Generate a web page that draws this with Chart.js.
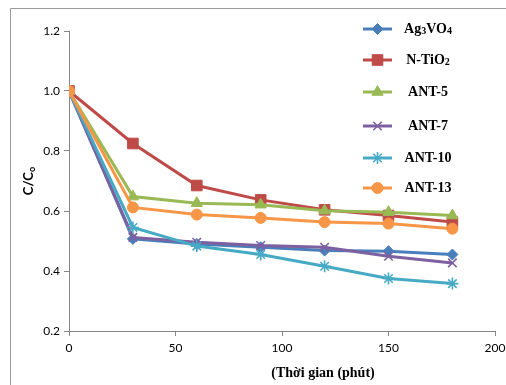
<!DOCTYPE html>
<html>
<head>
<meta charset="utf-8">
<script src="https://cdn.jsdelivr.net/npm/chart.js@4.4.1/dist/chart.umd.min.js"></script>
<style>
  html, body { margin: 0; padding: 0; background: #fff; }
  #wrap { width: 506px; height: 385px; position: relative; }
</style>
</head>
<body>
<div id="wrap"><canvas id="myChart" width="506" height="385"></canvas></div>
<script>
// thoi gian (phut)
var thoiGian = [0, 30, 60, 90, 120, 150, 180];

// C/Co cho tung mau
var ag3vo4 = [1.0, 0.507, 0.490, 0.479, 0.468, 0.466, 0.455];
var ntio2  = [1.0, 0.825, 0.685, 0.637, 0.604, 0.585, 0.563];
var ant5   = [1.0, 0.648, 0.626, 0.621, 0.601, 0.596, 0.585];
var ant7   = [1.0, 0.512, 0.496, 0.485, 0.479, 0.449, 0.427];
var ant10  = [1.0, 0.545, 0.483, 0.455, 0.416, 0.375, 0.358];
var ant13  = [1.0, 0.612, 0.588, 0.577, 0.563, 0.558, 0.541];

// ten mau, "_" = chi so duoi
var tenMau = ['Ag_3VO_4', 'N-TiO_2', 'ANT-5', 'ANT-7', 'ANT-10', 'ANT-13'];
var xTicks = [0, 50, 100, 150, 200];
var yTicks = [0.2, 0.4, 0.6, 0.8, 1.0, 1.2];

var mau = ['#4A7EBB', '#BE4B48', '#98B954', '#7D60A0', '#46AAC5', '#F79646'];
var kieuDiem = ['rectRot', 'rect', 'triangle', 'crossRot', 'star', 'circle'];
var banKinh = [5.5, 7.5, 6.5, 6, 6, 5.5];
var vienDiem = [1, 1, 1, 1.6, 1.6, 1];

var seriesList = [ag3vo4, ntio2, ant5, ant7, ant10, ant13];

var datasets = seriesList.map(function (s, i) {
    return {
        label: tenMau[i].replace(/_/g, ''),
        data: s.map(function (v, k) { return { x: thoiGian[k], y: v }; }),
        borderColor: mau[i],
        backgroundColor: mau[i],
        pointBackgroundColor: mau[i],
        pointBorderColor: mau[i],
        borderWidth: 3,
        pointStyle: kieuDiem[i],
        pointRadius: banKinh[i],
        pointBorderWidth: vienDiem[i],
        tension: 0,
        order: 5 - i
    };
});

// ve chu co chi so duoi
function veChu(ctx, text, cx, cy, size, weight, family) {
    var parts = [];
    text.split(/(_\d)/).forEach(function (p) {
        if (!p) return;
        if (p[0] === '_') parts.push([p.slice(1), true]);
        else parts.push([p, false]);
    });
    var fontOf = function (sub) {
        return weight + ' ' + (sub ? Math.round(size * 0.68) : size) + 'px ' + family;
    };
    var w = 0;
    parts.forEach(function (p) {
        ctx.font = fontOf(p[1]);
        p.push(ctx.measureText(p[0]).width);
        w += p[2];
    });
    var x = cx - w / 2;
    ctx.textBaseline = 'middle';
    ctx.textAlign = 'left';
    parts.forEach(function (p) {
        ctx.font = fontOf(p[1]);
        ctx.fillText(p[0], x, p[1] ? cy + size * 0.2 : cy);
        x += p[2];
    });
}

var khung = {
    id: 'khung',
    beforeDraw: function (chart) {
        var ctx = chart.ctx;
        ctx.save();
        ctx.fillStyle = '#fff';
        ctx.fillRect(0, 0, chart.width, chart.height);
        ctx.strokeStyle = '#9a9a9a';
        ctx.lineWidth = 1;
        ctx.beginPath();
        ctx.moveTo(10.5, 385);
        ctx.lineTo(10.5, 8.5);
        ctx.lineTo(506, 8.5);
        ctx.stroke();
        ctx.restore();
    },
    afterDraw: function (chart) {
        var ctx = chart.ctx;
        ctx.save();
        // chu thich
        var legY = [29, 60, 92, 126, 158, 188];
        tenMau.forEach(function (t, i) {
            var y = legY[i];
            ctx.strokeStyle = mau[i];
            ctx.lineWidth = 3;
            ctx.beginPath();
            ctx.moveTo(363, y);
            ctx.lineTo(392, y);
            ctx.stroke();
            ctx.fillStyle = mau[i];
            ctx.lineWidth = vienDiem[i];
            Chart.helpers.drawPoint(ctx, {
                pointStyle: kieuDiem[i], radius: banKinh[i], rotation: 0, borderWidth: vienDiem[i]
            }, 377.5, y);
            ctx.fillStyle = '#000';
            veChu(ctx, t, 428, y, 14, 'bold', '"Liberation Serif", serif');
        });
        // ten truc y
        ctx.translate(29, 181);
        ctx.rotate(-Math.PI / 2);
        ctx.fillStyle = '#000';
        var f = 'bold 13px Lato, sans-serif';
        ctx.font = f;
        var w1 = ctx.measureText('C/C').width;
        ctx.font = 'bold 9px Lato, sans-serif';
        var w2 = ctx.measureText('o').width;
        var x0 = -(w1 + w2) / 2;
        ctx.font = f;
        ctx.textBaseline = 'middle';
        ctx.textAlign = 'left';
        ctx.fillText('C/C', x0, 0);
        ctx.font = 'bold 9px Lato, sans-serif';
        ctx.fillText('o', x0 + w1, 3);
        ctx.setTransform(1, 0, 0, 1, 0, 0);
        // ten truc x
        ctx.font = 'bold 14px "Liberation Serif", serif';
        ctx.textAlign = 'center';
        ctx.textBaseline = 'middle';
        ctx.fillText('(Thời gian (phút)', 323, 373);
        ctx.restore();
    }
};

var ctx = document.getElementById('myChart').getContext('2d');
var chart = new Chart(ctx, {
    type: 'line',
    data: { datasets: datasets },
    plugins: [khung],
    options: {
        responsive: false,
        animation: false,
        layout: { padding: { top: 31, right: 11, left: 0, bottom: 0 } },
        plugins: { legend: { display: false }, tooltip: { enabled: false } },
        scales: {
            x: {
                type: 'linear',
                min: 0, max: 200,
                afterBuildTicks: function (s) { s.ticks = xTicks.map(function (v) { return { value: v }; }); },
                afterFit: function (s) { s.height = 54; s.paddingLeft = 0; s.paddingRight = 0; },
                ticks: { color: '#000', font: { family: 'Lato', size: 12 }, padding: 5 },
                grid: { drawOnChartArea: false, drawTicks: true, tickLength: 5, color: '#868686' },
                border: { color: '#868686' }
            },
            y: {
                min: 0.2, max: 1.2,
                afterBuildTicks: function (s) { s.ticks = yTicks.map(function (v) { return { value: v }; }); },
                afterFit: function (s) { s.width = 69; s.paddingTop = 0; s.paddingBottom = 0; },
                ticks: {
                    color: '#000', font: { family: 'Lato', size: 12 }, padding: 4,
                    callback: function (v) { return Number(v).toFixed(1); }
                },
                grid: { drawOnChartArea: false, drawTicks: true, tickLength: 5, color: '#868686' },
                border: { color: '#868686' }
            }
        }
    }
});
</script>
</body>
</html>
